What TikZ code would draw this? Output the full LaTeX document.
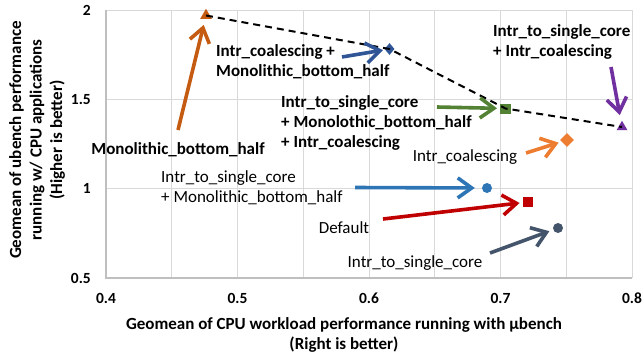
\documentclass[tikz,border=0pt]{standalone}
\usepackage{fontspec}
\setmainfont{Carlito}
\usetikzlibrary{arrows.meta,shapes.geometric}

\definecolor{cOrgDark}{HTML}{C55A11}
\definecolor{cBlueDark}{HTML}{2F5597}
\definecolor{cGreen}{HTML}{548235}
\definecolor{cPurple}{HTML}{7030A0}
\definecolor{cOrange}{HTML}{ED7D31}
\definecolor{cBlue}{HTML}{2E75B6}
\definecolor{cRed}{HTML}{C00000}
\definecolor{cSlate}{HTML}{44546A}
\definecolor{cGrid}{HTML}{D9D9D9}
\definecolor{cAxis}{HTML}{BFBFBF}

\tikzset{
  gridline/.style={draw=cGrid, line width=1pt},
  axisline/.style={draw=cAxis, line width=1.6pt},
  ticklbl/.style={font=\bfseries\fontsize{15.5}{18}\selectfont, inner sep=0pt},
  lbl/.style={font=\fontsize{17}{20}\selectfont, inner sep=0pt, align=left},
  blbl/.style={font=\bfseries\fontsize{17}{20}\selectfont, inner sep=0pt, align=left},
  axtitle/.style={font=\bfseries\fontsize{17}{20.5}\selectfont, inner sep=0pt, align=center},
  arr/.style={line width=3.6pt, -{Straight Barb[length=14pt,width=20pt]}},
  tri/.style={regular polygon, regular polygon sides=3, minimum size=13.5pt, inner sep=0pt},
  dmd/.style={diamond, minimum width=11pt, minimum height=11pt, inner sep=0pt},
  sqr/.style={rectangle, minimum width=10.5pt, minimum height=10pt, inner sep=0pt},
  dot/.style={circle, minimum size=10pt, inner sep=0pt},
  trend/.style={black, line width=2pt, dash pattern=on 7pt off 5pt},
}

\begin{document}
\begin{tikzpicture}[x=1pt, y=-1pt]
\useasboundingbox (0,0) rectangle (642,360);

% grid: vertical every 0.05, horizontal every 0.5
\foreach \gx in {171.75,237.5,303.25,369,434.75,500.5,566.25,632}
  \draw[gridline] (\gx,10) -- (\gx,278);
\foreach \gy in {10,99.3,188.7}
  \draw[gridline] (106,\gy) -- (632,\gy);
% axes
\draw[axisline] (106,10) -- (106,278) -- (632,278);

% tick labels
\node[ticklbl, anchor=east] (y2)  at (91,10)   {2};
\node[ticklbl, anchor=east] (y15) at (91,99.3) {1.5};
\node[ticklbl, anchor=east] (y1)  at (91,188.7){1};
\node[ticklbl, anchor=east] (y05) at (91,278)  {0.5};
\node[ticklbl] (x04) at (106,298) {0.4};
\node[ticklbl] (x05) at (237.5,298) {0.5};
\node[ticklbl] (x06) at (369,298) {0.6};
\node[ticklbl] (x07) at (500.5,298) {0.7};
\node[ticklbl] (x08) at (632,298) {0.8};

% axis titles
\node[axtitle] (xtitle) at (344,335) {Geomean of CPU workload performance running with µbench\\(Right is better)};
\node[axtitle, rotate=90] (ytitle) at (37,140) {Geomean of ubench performance\\running w/ CPU applications\\(Higher is better)};

% data markers
\node[tri, fill=cOrgDark] (m1) at (206,15.5) {};
\node[dmd, fill=cBlueDark, minimum width=10pt, minimum height=12pt] (m2) at (389.5,49) {};
\node[sqr, fill=cGreen] (m3) at (505.5,108.5) {};
\node[tri, fill=cPurple, minimum size=12.5pt] (m4) at (622,127) {};
\node[dmd, fill=cOrange, minimum width=14pt, minimum height=14pt] (m5) at (567,140) {};
\node[dot, fill=cBlue] (m6) at (487,188) {};
\node[sqr, fill=cRed] (m7) at (528,202) {};
\node[dot, fill=cSlate] (m8) at (558,228) {};

% dashed frontier
\draw[trend] (m1.center) -- (m2.center) -- (m3.center) -- (m4.center);

% labels
\node[blbl] (l1) at (178,150) {Monolithic\_bottom\_half};
\node[blbl, anchor=west] (l2) at (216,62) {Intr\_coalescing +\\Monolithic\_bottom\_half};
\node[blbl, anchor=west] (l3) at (281,123) {Intr\_to\_single\_core\\+ Monolothic\_bottom\_half\\+ Intr\_coalescing};
\node[blbl, anchor=west] (l4) at (493,42) {Intr\_to\_single\_core\\+ Intr\_coalescing};
\node[lbl] (l5) at (465,157) {Intr\_coalescing};
\node[lbl, anchor=west] (l6) at (161,188) {Intr\_to\_single\_core\\+ Monolithic\_bottom\_half};
\node[lbl] (l7) at (344,228) {Default};
\node[lbl] (l8) at (415,263) {Intr\_to\_single\_core};

% arrow tails
\coordinate (a1) at (178,130);
\coordinate (a2) at (342,57);
\coordinate (a3) at (437,107);
\coordinate (a4) at (611,67);
\coordinate (a5) at (526,153);
\coordinate (a6) at (355,187.5);
\coordinate (a7) at (383,219);
\coordinate (a8) at (490,253);

% arrows
\draw[arr, cOrgDark, shorten >=6pt] (a1) -- (m1);
\draw[arr, cBlueDark, shorten >=2pt] (a2) -- (m2);
\draw[arr, cGreen, shorten >=3pt] (a3) -- (m3);
\draw[arr, cPurple, shorten >=7pt] (a4) -- (m4);
\draw[arr, cOrange, shorten >=3pt] (a5) -- (m5);
\draw[arr, cBlue, shorten >=7pt] (a6) -- (m6);
\draw[arr, cRed, shorten >=3pt] (a7) -- (m7);
\draw[arr, cSlate, shorten >=4pt] (a8) -- (m8);
\end{tikzpicture}
\end{document}
